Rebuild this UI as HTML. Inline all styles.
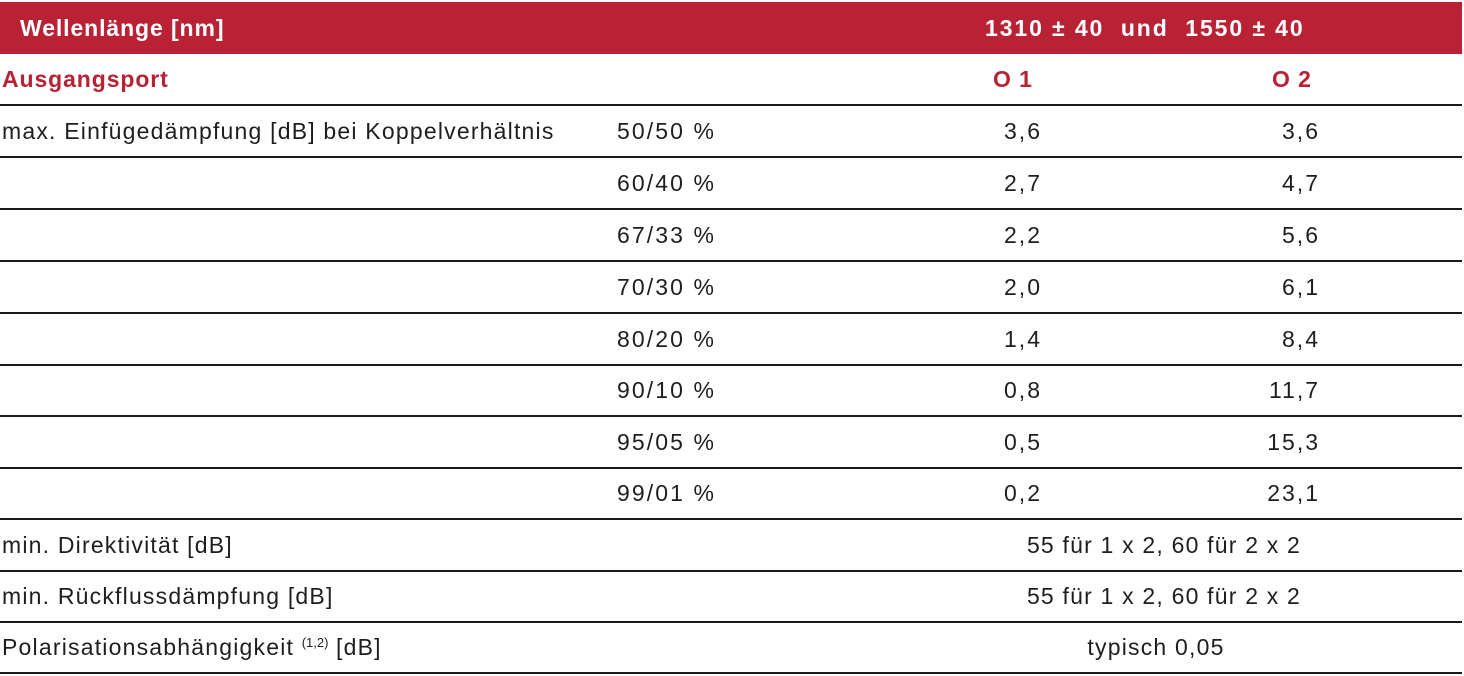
<!DOCTYPE html>
<html><head><meta charset="utf-8"><style>
body{margin:0;width:1464px;height:676px;background:#fff;position:relative;overflow:hidden;font-family:"Liberation Sans",sans-serif;color:#1e1e1e}
.hdr{position:absolute;left:0;top:2px;width:1462px;height:52px;background:#b92234}
.b{position:absolute;font-weight:bold;font-size:23px;line-height:26px;white-space:pre;letter-spacing:0.9px}
.t{position:absolute;font-size:23px;line-height:24px;white-space:nowrap;letter-spacing:1.2px}
.l{position:absolute;left:0;width:1462px;height:2px;background:#1a1a1a}
.r1{right:424px;text-align:right;letter-spacing:2px;margin-right:-2px}
.r2{right:146px;text-align:right;letter-spacing:2px;margin-right:-2px}
.p{left:617px;letter-spacing:2.1px}
.c{width:400px;text-align:center}
sup{font-size:13px;line-height:0;vertical-align:8px;letter-spacing:0}
</style></head><body>
<div class="hdr"></div>
<div class="b" style="left:20px;top:15px;color:#fff">Wellenlänge [nm]</div>
<div class="b" style="left:985px;top:15px;color:#fff;letter-spacing:1.9px">1310 ± 40  und  1550 ± 40</div>
<div class="b" style="left:2px;top:66px;color:#b92234">Ausgangsport</div>
<div class="b" style="left:993px;top:66px;color:#b92234">O 1</div>
<div class="b" style="left:1272px;top:66px;color:#b92234">O 2</div>
<div class="l" style="top:104px"></div>
<div class="l" style="top:156px"></div>
<div class="l" style="top:208px"></div>
<div class="l" style="top:260px"></div>
<div class="l" style="top:312px"></div>
<div class="l" style="top:364px"></div>
<div class="l" style="top:415px"></div>
<div class="l" style="top:467px"></div>
<div class="l" style="top:518px"></div>
<div class="l" style="top:570px"></div>
<div class="l" style="top:621px"></div>
<div class="l" style="top:672px"></div>
<div class="t" style="left:2px;top:119px">max. Einfügedämpfung [dB] bei Koppelverhältnis</div>
<div class="t p" style="top:119px">50/50 %</div><div class="t r1" style="top:119px">3,6</div><div class="t r2" style="top:119px">3,6</div>
<div class="t p" style="top:171px">60/40 %</div><div class="t r1" style="top:171px">2,7</div><div class="t r2" style="top:171px">4,7</div>
<div class="t p" style="top:223px">67/33 %</div><div class="t r1" style="top:223px">2,2</div><div class="t r2" style="top:223px">5,6</div>
<div class="t p" style="top:275px">70/30 %</div><div class="t r1" style="top:275px">2,0</div><div class="t r2" style="top:275px">6,1</div>
<div class="t p" style="top:327px">80/20 %</div><div class="t r1" style="top:327px">1,4</div><div class="t r2" style="top:327px">8,4</div>
<div class="t p" style="top:378px">90/10 %</div><div class="t r1" style="top:378px">0,8</div><div class="t r2" style="top:378px">11,7</div>
<div class="t p" style="top:430px">95/05 %</div><div class="t r1" style="top:430px">0,5</div><div class="t r2" style="top:430px">15,3</div>
<div class="t p" style="top:481px">99/01 %</div><div class="t r1" style="top:481px">0,2</div><div class="t r2" style="top:481px">23,1</div>
<div class="t" style="left:2px;top:533px">min. Direktivität [dB]</div>
<div class="t c" style="left:964px;top:533px">55 für 1 x 2, 60 für 2 x 2</div>
<div class="t" style="left:2px;top:584px">min. Rückflussdämpfung [dB]</div>
<div class="t c" style="left:964px;top:584px">55 für 1 x 2, 60 für 2 x 2</div>
<div class="t" style="left:2px;top:635px">Polarisationsabhängigkeit <sup>(1,2)</sup> [dB]</div>
<div class="t c" style="left:956px;top:635px">typisch 0,05</div>
</body></html>
